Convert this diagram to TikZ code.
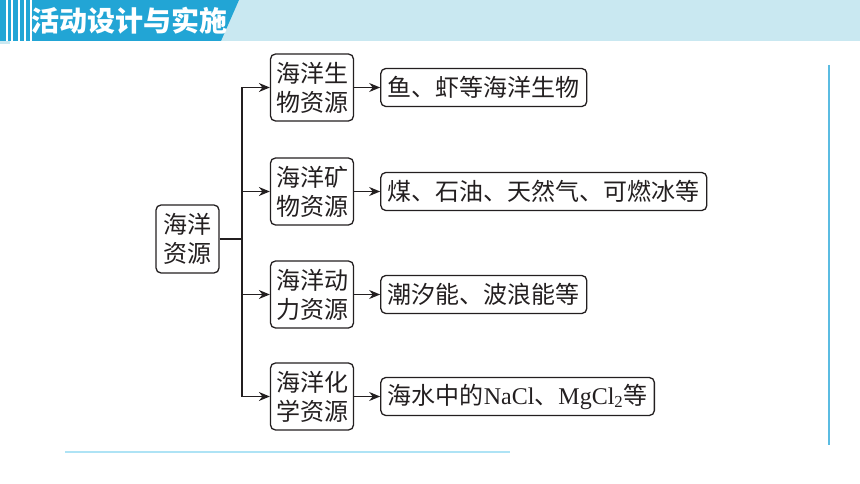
\documentclass[tikz,border=0pt]{standalone}
\usepackage{fontspec}
\newfontfamily\cjk{Noto Sans CJK SC}
\newfontfamily\lat{Liberation Serif}
\usepackage{tikz}
\definecolor{headblue}{HTML}{22A5D5}
\definecolor{headlight}{HTML}{C9E8F1}
\definecolor{ruleblue}{HTML}{5BBCE2}
\definecolor{footblue}{HTML}{AEE3F5}
\definecolor{ink}{HTML}{231F20}
\tikzset{
    resbox/.style={draw=ink, line width=1.3pt, rounded corners=5pt, align=center, inner sep=0pt, text=ink, font=\cjk\fontsize{24}{29}\selectfont},
    rootbox/.style={resbox, minimum width=63pt, minimum height=68pt},
    kindbox/.style={resbox, minimum width=83pt, minimum height=67pt},
    examplebox/.style={resbox, minimum height=38pt, inner xsep=7pt},
    headtitle/.style={text=white, font=\cjk\bfseries\fontsize{28}{32}\selectfont, inner sep=0pt},
    link/.style={draw=ink, line width=1.3pt},
    arrowlink/.style={link, -{Stealth[length=11pt,width=9pt]}}
}
\usetikzlibrary{arrows.meta,positioning}

\begin{document}
\begin{tikzpicture}[x=1pt, y=-1pt]
    \useasboundingbox (0,0) rectangle (860,484);
    % header band
    \fill[headlight] (0,0) rectangle (860,41);
    \fill[headblue] (0,0) -- (239,0) -- (221,41) -- (0,41) -- cycle;
    \foreach \sx in {7,12,19,25,31}
        \draw[white, line width=1.2pt] (\sx,0) -- (\sx,41);
    \fill[headlight] (0,41) rectangle (10,44);
    \node[headtitle] (head) at (129,21) {活动设计与实施};
    % page rules
    \draw[ruleblue, line width=1.3pt] (829,65) -- (829,445);
    \draw[footblue, line width=2pt] (65,452) -- (510,452);
    % resources
    \node[rootbox] (src) at (187.5,239) {海洋\\资源};
    \node[kindbox] (bio) at (312,87.5) {海洋生\\物资源};
    \node[kindbox] (min) at (312,191.5) {海洋矿\\物资源};
    \node[kindbox] (pow) at (312,294.5) {海洋动\\力资源};
    \node[kindbox] (chem) at (312,396.5) {海洋化\\学资源};
    \node[examplebox, right=26pt of bio] (exbio) {鱼、虾等海洋生物};
    \node[examplebox, right=26pt of min] (exmin) {煤、石油、天然气、可燃冰等};
    \node[examplebox, right=26pt of pow] (expow) {潮汐能、波浪能等};
    \node[examplebox, right=26pt of chem] (exchem) {海水中的{\lat NaCl}、{\lat MgCl\textsubscript{2}}等};
    \coordinate (fork) at (242,239);
    \draw[link] (src.east) -- (fork);
    \foreach \k in {bio,min,pow,chem} {
        \draw[arrowlink] (fork) |- (\k);
        \draw[arrowlink] (\k) -- (ex\k);
    }
\end{tikzpicture}
\end{document}
